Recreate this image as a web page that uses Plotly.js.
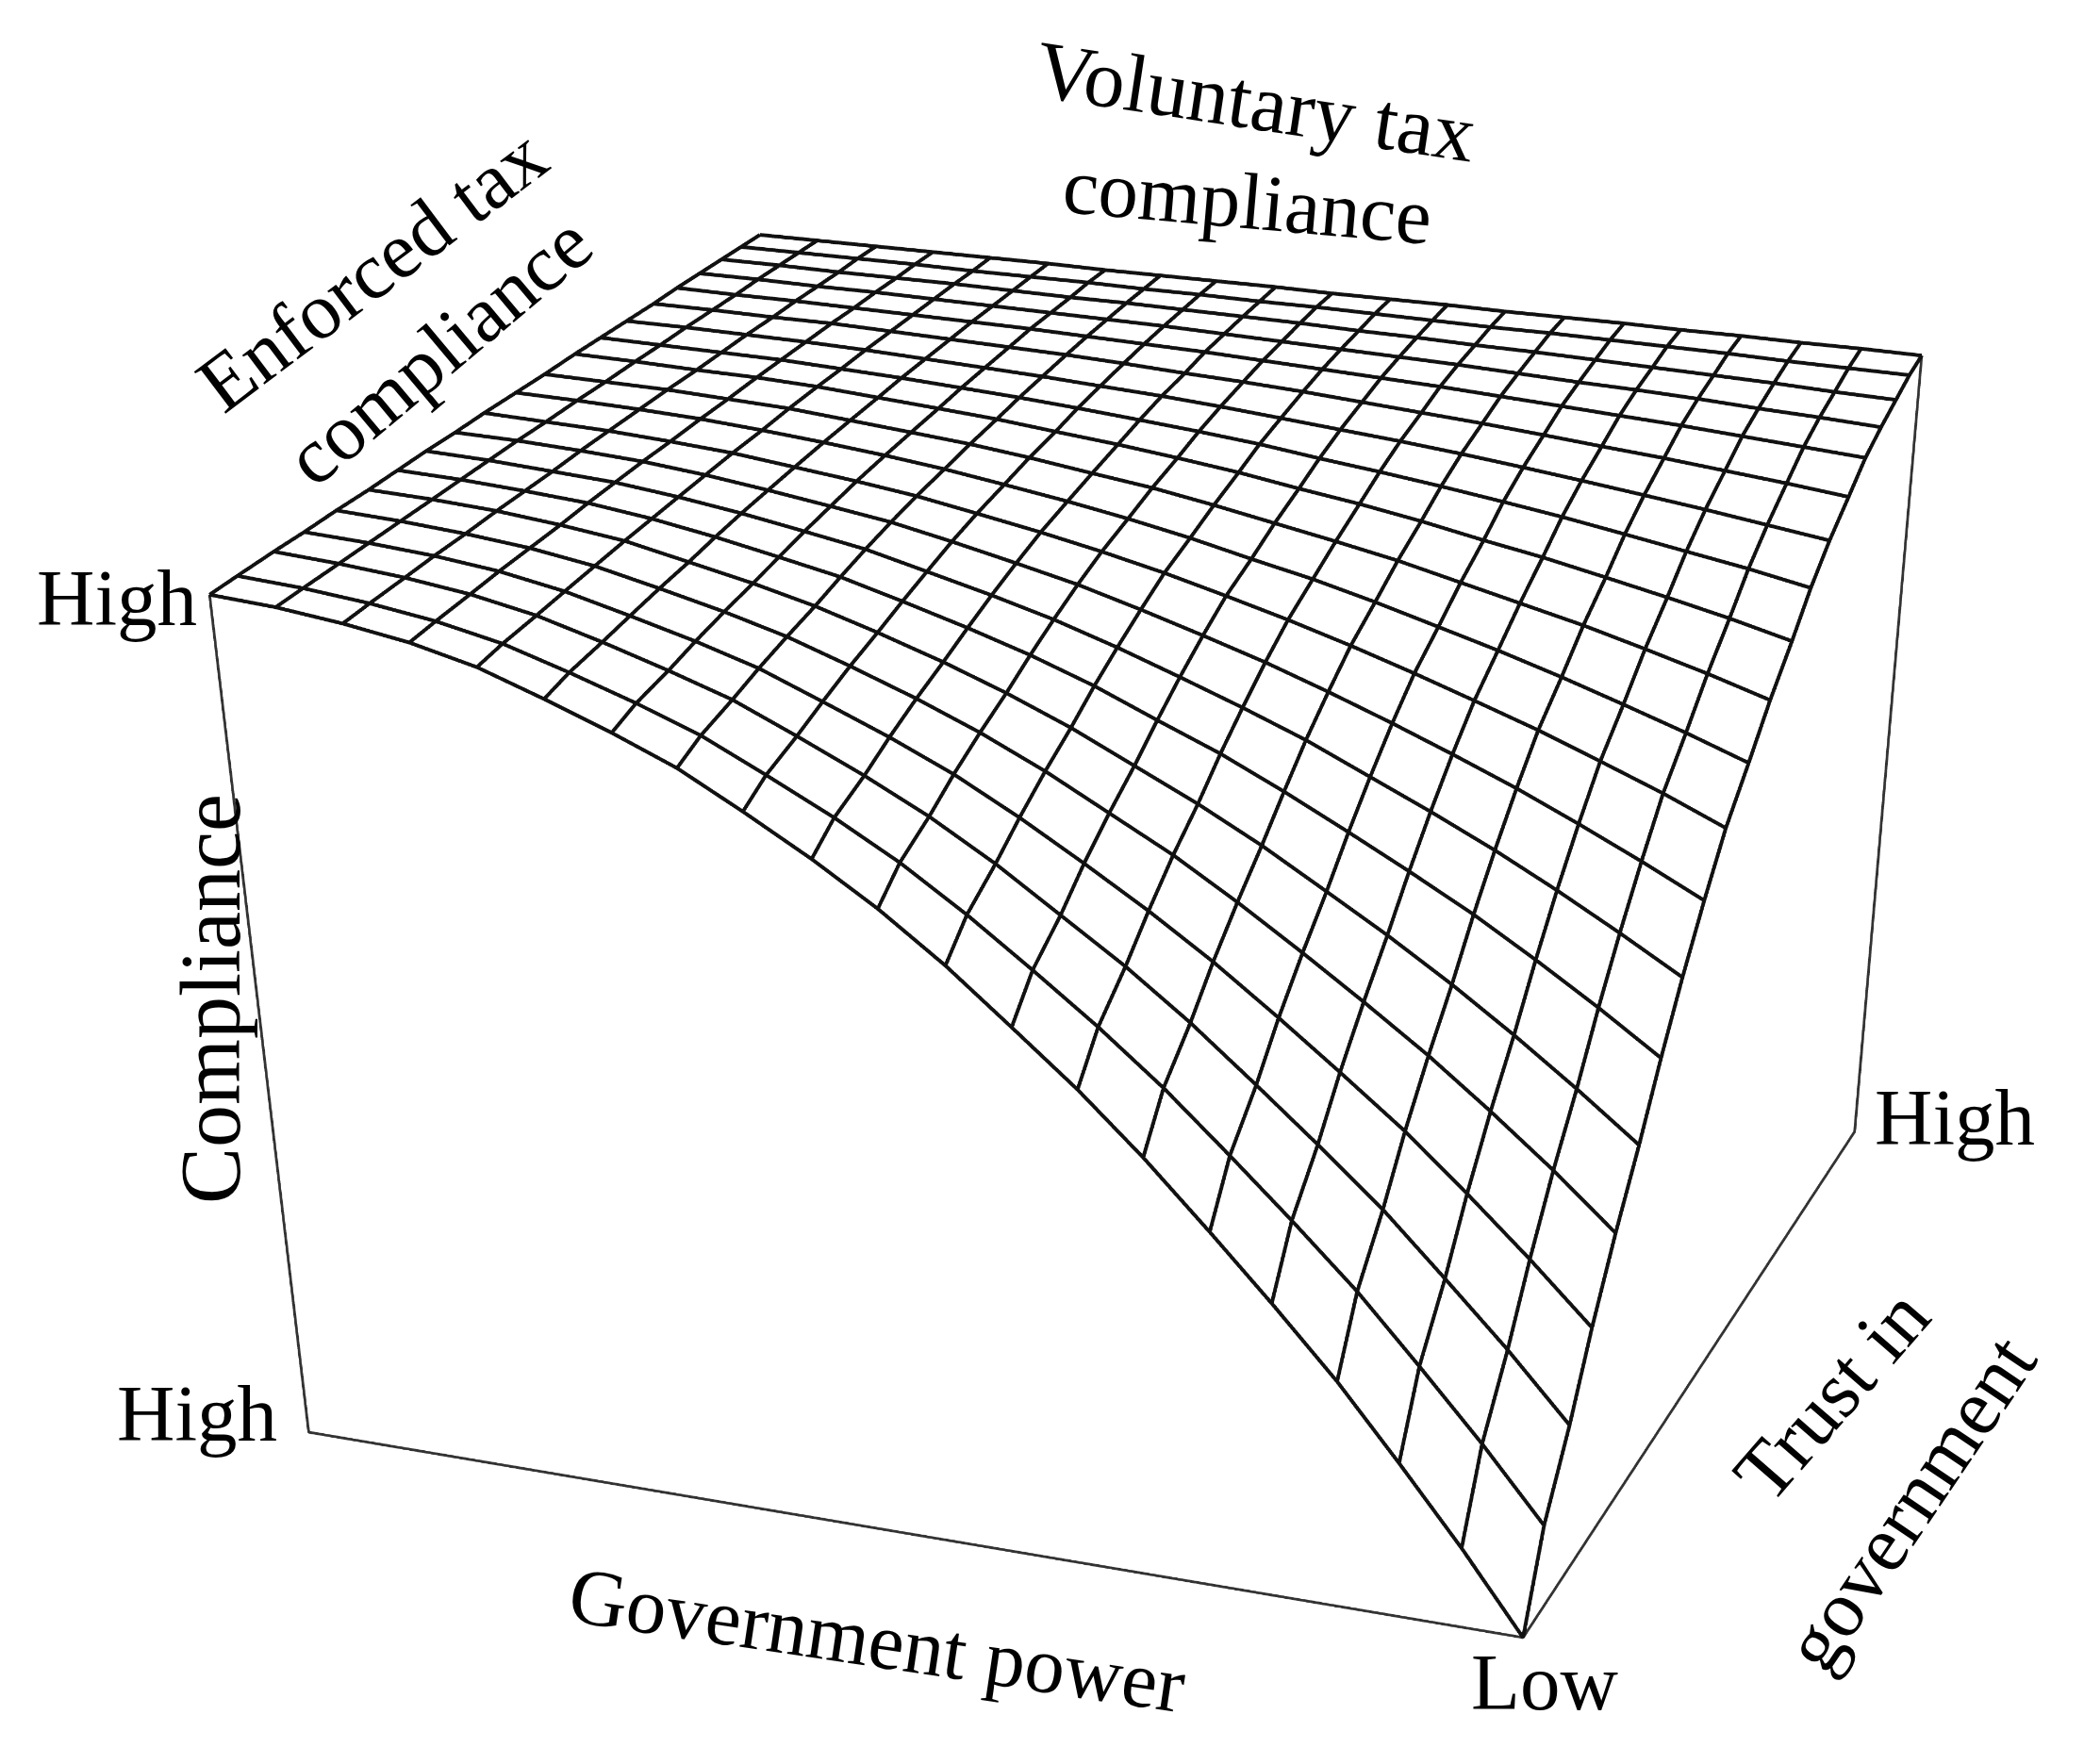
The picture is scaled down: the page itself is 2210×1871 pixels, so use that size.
<!DOCTYPE html>
<html><head><meta charset="utf-8"><script src="https://cdn.plot.ly/plotly-3.0.1.min.js"></script>
<style>html,body{margin:0;background:#fff;width:2210px;height:1871px;overflow:hidden}#w{position:absolute;left:0;top:0;width:2210px;height:1871px;overflow:hidden}#g{position:absolute;left:0;top:0;width:2564px;height:4096px}</style></head>
<body><div id="w"><div id="g"></div></div>
<script>
const gridTrust=[0,.043,.1,.149,.202,.256,.306,.356,.408,.461,.52,.576,.635,.686,.739,.795,.845,.894,.942,.986,1.028];
const gridTrustFar=[0,.042,.098,.146,.198,.251,.3,.349,.4,.452,.51,.564,.622,.672,.724,.779,.828,.876,.923,.966,1.008];
const gridPower=[0,.049,.098,.146,.196,.243,.293,.342,.391,.44,.49,.539,.59,.639,.688,.739,.79,.842,.894,.947,1];
const gridPowerFar=[0,.05,.1,.15,.201,.249,.3,.351,.401,.451,.502,.552,.605,.655,.705,.757,.81,.863,.916,.971,1.025];
const compliance=[
[0,.099,.191,.278,.359,.432,.507,.574,.634,.693,.746,.791,.833,.871,.9,.927,.952,.969,.98,.988,.992],
[.109,.197,.279,.357,.429,.494,.561,.62,.674,.726,.774,.814,.851,.885,.911,.935,.957,.972,.982,.989,.993],
[.192,.272,.346,.417,.482,.541,.602,.656,.704,.752,.795,.831,.865,.896,.919,.941,.961,.975,.984,.99,.994],
[.278,.349,.416,.479,.537,.59,.644,.692,.736,.778,.817,.849,.879,.907,.928,.947,.965,.978,.986,.991,.994],
[.358,.422,.481,.536,.588,.635,.683,.727,.765,.803,.837,.866,.893,.917,.936,.953,.969,.98,.987,.992,.995],
[.43,.486,.539,.588,.635,.676,.719,.757,.791,.825,.855,.881,.905,.926,.943,.958,.973,.982,.989,.993,.995],
[.504,.553,.599,.642,.682,.718,.755,.789,.818,.848,.874,.896,.917,.936,.95,.964,.976,.985,.99,.994,.996],
[.571,.613,.653,.69,.725,.756,.789,.817,.843,.868,.891,.91,.928,.945,.957,.969,.979,.987,.991,.995,.997],
[.633,.669,.703,.735,.765,.792,.819,.844,.866,.887,.907,.923,.939,.953,.963,.973,.982,.989,.993,.996,.997],
[.69,.721,.749,.776,.801,.824,.847,.868,.887,.905,.921,.935,.948,.96,.969,.977,.985,.99,.994,.996,.998],
[.736,.762,.786,.809,.831,.85,.87,.888,.903,.919,.933,.945,.956,.966,.974,.981,.987,.992,.995,.997,.998],
[.782,.804,.824,.843,.86,.876,.893,.907,.92,.933,.945,.954,.964,.972,.978,.984,.99,.993,.996,.997,.998],
[.823,.841,.857,.872,.887,.899,.913,.925,.935,.946,.955,.963,.97,.977,.982,.987,.992,.995,.996,.998,.999],
[.862,.876,.888,.9,.912,.922,.932,.941,.949,.958,.965,.971,.977,.982,.986,.99,.993,.996,.997,.998,.999],
[.894,.904,.914,.923,.932,.94,.948,.955,.961,.967,.973,.978,.982,.986,.989,.992,.995,.997,.998,.999,.999],
[.921,.929,.936,.943,.949,.955,.961,.966,.971,.976,.98,.983,.987,.99,.992,.994,.996,.998,.998,.999,.999],
[.946,.951,.956,.961,.965,.969,.973,.977,.98,.983,.986,.989,.991,.993,.995,.996,.997,.998,.999,.999,1],
[.962,.966,.969,.973,.976,.978,.981,.984,.986,.988,.99,.992,.994,.995,.996,.997,.998,.999,.999,1,1],
[.975,.977,.98,.982,.984,.986,.988,.989,.991,.992,.994,.995,.996,.997,.997,.998,.999,.999,.999,1,1],
[.987,.988,.989,.991,.992,.993,.994,.994,.995,.996,.997,.997,.998,.998,.999,.999,.999,1,1,1,1],
[.994,.995,.995,.996,.996,.997,.997,.997,.998,.998,.998,.999,.999,.999,.999,1,1,1,1,1,1]];
const frameTrust=[0,-.041,0,.954,1.028];
const framePower=[1,.979,0,-.015,0];
const frameLevel=[.992,0,0,0,.994];
const labelText=['Voluntary tax','compliance','Enforced tax','compliance','High','Compliance','High','Government power','Low','High','Trust in','government'];

const W=2564,H=4096;
const nodeT=(j,k)=>gridTrust[j]+(gridTrustFar[j]-gridTrust[j])*gridPower[k];
const nodeP=(j,k)=>gridPower[k]+(gridPowerFar[k]-gridPower[k])*gridTrust[j];
const gx=[],gy=[],gz=[];
gridTrust.forEach((t,j)=>{gridPower.forEach((pw,k)=>{gx.push(nodeT(j,k));gy.push(nodeP(j,k));gz.push(compliance[j][k])});gx.push(null);gy.push(null);gz.push(null)});
gridPower.forEach((pw,k)=>{gridTrust.forEach((t,j)=>{gx.push(nodeT(j,k));gy.push(nodeP(j,k));gz.push(compliance[j][k])});gx.push(null);gy.push(null);gz.push(null)});
const place=[[1332,107,8.6,87],[1323,213,5,85],[394,286,-37,85],[465,371,-40,85],[124,634,0,85],[223,1060,-90,90],[209,1499,0,85],[930,1739,8.5,85],[1638,1784,0,85],[2073,1185,0,85],[1942,1479,-49,85],[2025,1594,-56,85]];
const ann=labelText.map((t,i)=>({text:t,xref:'paper',yref:'paper',x:place[i][0]/W,y:1-place[i][1]/H,xanchor:'center',yanchor:'middle',textangle:place[i][2],showarrow:false,font:{family:'Liberation Serif',size:place[i][3],color:'#000'}}));
const hidden={visible:false,range:[-.1,1.1]};
Plotly.newPlot('g',[
 {type:'scatter3d',mode:'lines',x:frameTrust,y:framePower,z:frameLevel,line:{color:'#333',width:5},hoverinfo:'skip'},
 {type:'scatter3d',mode:'lines',x:gx,y:gy,z:gz,line:{color:'#111',width:7},connectgaps:false,hoverinfo:'skip'}],
 {width:W,height:H,margin:{l:0,r:0,t:0,b:0},showlegend:false,paper_bgcolor:'#fff',annotations:ann,
 scene:{domain:{x:[0,1],y:[0,1]},aspectmode:'manual',aspectratio:{x:1.2,y:1.248,z:.81576},
 camera:{eye:{x:-3.4045,y:-1.3613,z:1.4877},center:{x:-2.5005,y:-1.0206,z:.8156},up:{x:0,y:0,z:1}},
 xaxis:hidden,yaxis:hidden,zaxis:hidden}},{displayModeBar:false});
</script></body></html>
